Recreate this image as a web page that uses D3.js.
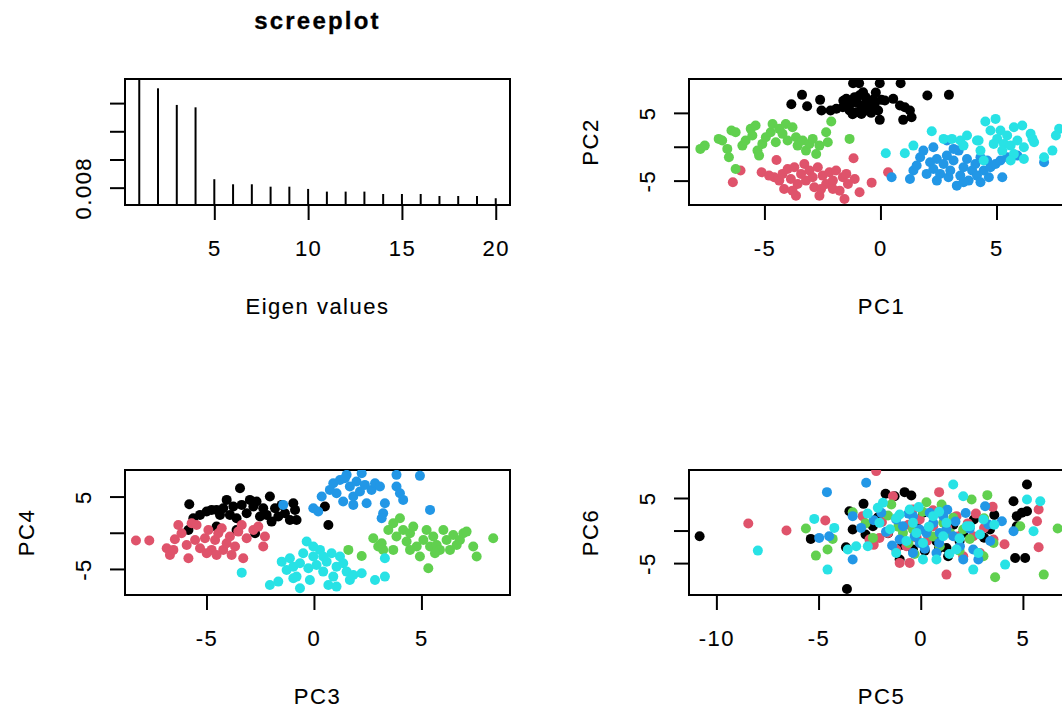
<!DOCTYPE html>
<html>
<head>
<meta charset="utf-8">
<script src="https://cdn.jsdelivr.net/npm/d3@7"></script>
<style>
  body { margin: 0; background: #fff; }
  svg text { font-family: "Liberation Sans", Arial, sans-serif; font-size: 22px; letter-spacing: 1.5px; fill: #000; stroke: #000; stroke-width: 0.12px; }
  svg text.title { font-weight: bold; font-size: 24px; letter-spacing: 2.2px; stroke-width: 0.3px; }
</style>
</head>
<body>
<div id="chart"></div>
<script>
// palette (R 4 default)
const groupColors = ["#000000", "#DF536B", "#61D04F", "#2297E6", "#28E2E5"];

// screeplot
const eigenIndex = d3.range(1, 21);
const eigenValues = [0.0162, 0.01505, 0.01387, 0.0137, 0.0086, 0.00824, 0.00824, 0.00807, 0.00807, 0.00791,
  0.00772, 0.00772, 0.00772, 0.00755, 0.00755, 0.00755, 0.00741, 0.00741, 0.00741, 0.00725];
const screeYlim = [0.00677, 0.01571];
const screeYTicks = [0.008, 0.010, 0.012, 0.014];
const screeXTicks = [5, 10, 15, 20];

// PC1 vs PC2
const pc12Black = [[-3.38,7.66],[-3.84,6.28],[-3.16,5.99],[-2.6,6.92],[-2.54,5.34],[-2.15,5.34],[-1.18,9.38],[-0.92,9.38],
  [-0.03,9.38],[0.87,9.38],[-1.47,7.07],[-1.3,6.31],[-1.11,7.32],[-0.75,8.05],[-0.64,7.32],[-0.32,6.92],[0.04,6.92],
  [-1.62,5.84],[-1.33,5.34],[-1.04,5.1],[-0.82,4.85],[-0.61,5.34],[-0.46,5.84],[-0.25,6.33],[-0.1,5.34],[-0.03,3.97],
  [0.19,6.82],[0.55,7.07],[0.84,6.08],[1.05,5.84],[1.27,5.34],[0.98,3.97],[1.34,4.36],[2.02,7.56],[2.95,7.66],
  [-1.4,6.0],[-1.0,6.5],[-0.8,5.8],[-1.2,4.8],[-0.6,6.6],[-0.9,7.6],[-1.6,6.8],[-0.4,5.0],[-1.9,5.6],[-0.2,8.0]];
const pc12Red = [[-6.36,-5.25],[-6.03,-3.52],[-5.12,-3.77],[-4.48,-1.95],[-4.58,-4.51],[-4.36,-5.0],[-4.22,-4.01],
  [-4.15,-6.23],[-4.0,-3.28],[-3.86,-4.75],[-3.71,-3.03],[-3.64,-7.22],[-3.57,-5.49],[-3.42,-4.01],[-3.28,-2.54],
  [-3.21,-5.0],[-3.06,-3.52],[-2.92,-4.51],[-2.85,-5.99],[-2.7,-3.03],[-2.63,-7.22],[-2.49,-4.26],[-2.34,-5.49],
  [-2.2,-3.77],[-2.05,-5.0],[-1.91,-3.52],[-1.76,-6.48],[-1.62,-4.51],[-1.47,-4.01],[-1.4,-5.49],[-1.55,-7.71],
  [-1.16,-1.7],[-1.11,-4.75],[-0.9,-6.72],[-0.38,-5.3],[0.33,-3.77],[-4.8,-4.26],[-3.79,-6.48],[-2.56,-6.23],[-2.05,-6.23]];
const pc12Green = [[-7.76,-0.32],[-7.57,0.17],[-6.97,1.16],[-6.82,0.91],[-6.6,-0.32],[-6.53,-1.55],[-6.42,2.39],
  [-6.24,-3.28],[-6.24,2.14],[-5.95,0.17],[-5.81,0.91],[-5.59,2.64],[-5.52,1.65],[-5.38,3.13],[-5.3,-0.57],[-5.23,-1.31],
  [-5.09,0.42],[-4.94,1.4],[-4.73,2.14],[-4.65,3.37],[-4.51,0.67],[-4.36,2.64],[-4.22,1.9],[-4.08,3.37],[-4.0,0.91],
  [-3.79,2.88],[-3.64,1.4],[-3.57,0.17],[-3.35,0.91],[-3.21,-0.57],[-3.06,0.42],[-2.92,1.16],[-2.77,-1.06],[-2.63,0.17],
  [-2.34,2.14],[-2.27,0.67],[-2.12,3.72],[-1.33,1.16]];
const pc12Blue = [[0.48,-4.51],[1.27,-4.75],[1.42,-3.52],[1.56,-2.78],[1.71,-1.55],[1.85,-0.57],[1.99,-4.01],[2.14,-2.29],
  [2.28,-3.28],[2.43,-1.8],[2.57,-4.01],[2.72,-2.54],[2.86,-1.31],[2.93,-4.51],[3.01,-3.52],[3.15,-2.04],[3.29,-5.74],
  [3.37,-0.57],[3.44,-4.26],[3.58,-3.03],[3.73,-1.8],[3.8,-5.0],[3.95,-3.52],[4.09,-2.54],[4.16,-4.26],[4.31,-1.55],
  [4.45,-3.52],[4.6,-2.04],[4.74,-3.03],[4.96,-2.54],[5.17,-2.04],[5.25,-4.51],[5.46,-1.55],[5.9,-1.31],[7.05,-2.29],
  [2.86,0.91],[3.15,-0.32],[2.28,-0.07],[3.58,-5.25],[4.31,-5.25],[2.43,-5.0],[4.67,-4.51]];
const pc12Cyan = [[0.23,-0.96],[1.05,-0.96],[1.42,0.17],[2.21,2.29],[2.72,1.16],[3.08,1.16],[3.44,0.91],[3.73,1.65],
  [4.16,0.91],[4.31,-0.57],[4.52,3.72],[4.96,4.11],[4.74,2.39],[5.03,1.16],[5.17,2.39],[5.32,0.42],[5.46,1.65],[5.61,0.17],
  [5.75,2.88],[5.9,0.91],[6.11,3.13],[6.18,-0.07],[6.47,1.9],[6.62,0.67],[5.75,-1.06],[6.18,-1.8],[7.05,-1.55],[7.41,-0.57],
  [7.56,1.65],[7.7,2.64],[4.88,0.42],[4.45,-2.04],[4.23,0.91],[5.25,-0.57],[3.58,0.17],[5.61,-2.04],[6.55,1.16]];

// PC3 vs PC4
const pc34Black = [[-5.8,3.94],[-5.61,2.0],[-5.3,2.47],[-4.99,2.93],[-4.76,3.16],[-4.53,0.85],[-4.37,2.47],[-4.22,3.39],
  [-4.06,4.54],[-3.91,2.47],[-3.75,3.62],[-3.6,2.0],[-3.44,6.15],[-3.36,3.85],[-3.13,2.7],[-2.98,4.54],[-2.82,3.62],
  [-2.67,4.31],[-2.51,2.24],[-2.36,3.39],[-2.2,2.47],[-2.05,5.0],[-1.97,1.54],[-1.81,3.39],[-1.66,2.24],[-1.5,3.85],
  [-1.35,2.7],[-1.12,1.77],[-0.96,4.08],[-0.88,3.16],[-0.81,1.77],[0.51,3.62],[0.67,1.08],[-4.53,3.16],[-5.84,0.39],
  [-3.6,0.39],[-2.74,-0.07]];
const pc34Red = [[-8.28,-1.08],[-7.66,-1.08],[-6.85,-2.14],[-6.7,-3.06],[-6.47,-0.9],[-6.31,1.08],[-6.16,-0.07],
  [-5.92,-1.68],[-5.84,-3.53],[-5.69,1.31],[-5.53,-0.99],[-5.3,-2.14],[-5.07,-0.76],[-4.91,0.39],[-4.76,-2.37],[-4.6,-0.99],
  [-4.45,-0.07],[-4.29,0.62],[-4.22,-2.37],[-4.06,-1.45],[-3.91,-0.53],[-3.83,-3.06],[-3.67,-1.91],[-3.52,0.16],
  [-3.36,1.08],[-3.29,-3.53],[-3.13,-0.76],[-2.82,0.39],[-2.59,0.85],[-2.36,-1.91],[-2.28,-0.53],[-5.46,1.08],
  [-4.53,-3.06],[-6.54,-2.37],[-4.99,-2.83]];
const pc34Green = [[1.6,-2.37],[2.22,-3.2],[2.76,-0.76],[2.99,-1.91],[3.22,-2.37],[3.46,0.39],[3.69,1.31],[3.84,-0.53],
  [4.0,2.0],[4.15,0.39],[4.31,-1.22],[4.47,-0.07],[4.62,0.85],[4.78,-1.91],[4.93,-3.29],[5.09,-0.99],[5.24,0.39],
  [5.32,-4.91],[5.4,-1.91],[5.55,-0.53],[5.71,-1.68],[5.86,-2.37],[6.02,0.39],[6.17,-0.99],[6.33,-2.37],[6.48,-0.3],
  [6.64,-1.68],[6.79,-0.99],[6.95,-0.07],[7.1,0.16],[7.41,-1.91],[7.57,-3.29],[8.34,-0.76],[3.69,-2.37],[4.47,-2.37],
  [5.63,-2.83],[3.15,-1.45]];
const pc34Blue = [[-1.43,3.85],[-0.03,3.39],[0.2,2.93],[0.36,5.0],[0.74,5.92],[0.9,6.84],[1.05,5.46],[1.21,7.3],
  [1.36,4.31],[1.52,8.0],[1.67,6.38],[1.83,5.0],[1.98,7.07],[2.14,5.69],[2.22,8.23],[2.37,6.61],[2.45,4.08],[2.68,5.92],
  [2.84,6.84],[3.07,6.38],[3.22,2.7],[3.3,4.08],[3.15,2.0],[3.84,8.0],[3.84,6.38],[4.0,5.46],[4.15,4.54],[4.93,7.86],
  [5.4,3.16],[1.83,3.85],[1.44,7.53]];
const pc34Cyan = [[-3.36,-5.51],[-2.05,-7.21],[-1.66,-6.75],[-1.5,-3.99],[-1.27,-5.14],[-1.12,-3.53],[-0.96,-4.68],
  [-0.81,-6.06],[-0.65,-7.67],[-0.65,-4.22],[-0.5,-2.83],[-0.34,-1.22],[-0.26,-4.91],[-0.19,-6.52],[-0.03,-3.29],
  [0.12,-4.45],[0.28,-2.37],[0.43,-5.37],[0.59,-3.99],[0.67,-7.21],[0.82,-2.83],[0.9,-6.06],[1.05,-4.68],[1.21,-3.29],
  [1.36,-4.22],[1.52,-5.37],[1.67,-6.52],[1.83,-5.83],[2.22,-5.6],[2.84,-6.52],[3.3,-6.06],[3.3,-3.53],[-0.03,-1.91],
  [0.43,-3.29],[1.05,-7.44],[-0.96,-6.29]];

// PC5 vs PC6
const pc56Black = [[-10.82,-0.87],[-5.38,-1.28],[-3.66,-2.56],[-3.61,-8.97],[-3.49,2.97],[-2.8,4.1],[-1.72,5.64],
  [-1.28,5.28],[-0.79,5.9],[-0.46,5.38],[4.54,4.51],[4.7,2.21],[4.95,2.72],[5.2,2.97],[5.2,7.08],[4.62,-4.21],[5.11,-4.21],
  [3.39,0.15],[1.26,-2.67],[1.34,-3.95],[-1.03,-4.46],[0.44,-0.87],[-0.38,-2.92],[-2.34,0.67],[2.08,-0.36],[4.7,0.67],
  [0.77,-1.64],[0.11,2.72],[-3.33,0.15],[-0.9,-2.2],[0.2,-3.1],[1.6,0.9],[-2.1,2.0],[3.1,-1.1],[-1.6,-0.4],[2.6,1.7],
  [0.9,-2.7],[-0.2,1.4],[1.9,-1.6],[3.6,2.4],[-2.7,-0.6]];
const pc56Red = [[-8.44,1.08],[-6.57,0.0],[-4.67,1.54],[-2.18,9.13],[-1.36,5.28],[0.9,5.9],[3.52,3.64],[5.77,3.23],
  [5.69,1.44],[5.77,-2.56],[1.26,-6.77],[-1.03,-4.97],[-0.54,-4.97],[-2.84,2.21],[-2.02,-1.13],[-1.61,-0.36],[-0.05,1.69],
  [0.61,0.67],[1.75,2.21],[2.57,-0.87],[2.9,-3.44],[3.56,-1.38],[-2.51,-1.38],[2.08,-3.95],[0.93,2.72],[-0.7,-2.41],
  [-0.38,3.23],[-1.9,1.3],[0.3,-1.6],[1.3,0.4],[-0.6,0.9],[2.3,1.1],[-2.3,-2.2],[3.1,0.4],[-0.2,-1.1],[1.8,-0.9],
  [0.6,3.1],[-1.2,-2.9],[2.7,2.6],[4.1,-2.1]];
const pc56Green = [[-5.62,0.31],[-5.13,-3.85],[-4.56,-2.92],[-4.31,-1.28],[-3.33,2.82],[-2.34,-1.13],[-1.44,4.0],
  [0.28,4.36],[1.02,4.0],[1.59,1.95],[2.49,4.77],[3.26,5.44],[3.56,-1.9],[3.64,-7.18],[4.87,0.67],[6.02,-6.77],[6.7,0.31],
  [-0.38,0.15],[0.93,-2.41],[2.08,0.15],[3.07,-3.95],[-0.87,-0.36],[1.43,-0.36],[-1.6,2.3],[0.6,-0.9],[-0.6,-1.9],
  [2.4,-1.3],[1.1,1.2],[-2.7,1.1],[3.1,1.9],[0.1,2.9],[-1.1,0.6],[1.9,-3.1],[-0.3,-3.6]];
const pc56Blue = [[-4.59,5.9],[-2.67,7.33],[-4.97,-1.13],[-4.48,-0.87],[-3.33,2.21],[-3.33,-4.46],[-2.92,0.41],
  [-1.93,2.72],[-1.2,1.69],[-0.87,0.67],[-0.38,-3.44],[-0.05,-1.9],[0.28,-0.36],[0.44,2.72],[0.61,1.18],[0.93,-0.36],
  [1.1,2.21],[1.26,0.15],[1.59,-0.87],[1.92,-2.41],[2.08,-4.46],[2.57,-2.92],[2.82,-4.46],[3.15,3.74],[3.31,0.92],
  [3.97,1.44],[4.54,-0.1],[-0.38,2.21],[-0.05,0.15],[-1.03,-1.38],[0.77,-3.44],[-1.7,-0.2],[-0.6,2.6],[0.2,-2.8],
  [1.7,1.4],[2.4,0.3],[-2.3,1.6],[0.9,-1.9],[-1.4,-2.3],[3.4,-1.6],[2.2,2.7],[-0.3,-0.9],[1.3,3.2]];
const pc56Cyan = [[-7.97,-3.08],[-5.21,1.79],[-4.56,-6.0],[-4.23,0.41],[-3.57,-2.92],[-3.16,-2.41],[-2.59,-2.41],
  [-2.1,3.49],[-1.85,4.26],[-1.03,2.46],[-0.54,3.23],[-0.38,1.18],[-0.21,-0.36],[0.11,-4.46],[0.61,2.21],[0.77,-4.46],
  [1.59,7.08],[1.75,-2.92],[2.08,5.28],[2.25,0.67],[2.57,-6.0],[3.07,1.69],[4.13,-5.23],[5.2,4.77],[5.85,4.51],
  [5.52,-0.1],[-1.2,-3.44],[0.11,-1.9],[1.26,1.18],[2.41,0.67],[1.1,-0.87],[-2.02,1.18],[2.82,-3.44],[-1.5,0.2],
  [0.4,0.6],[-0.7,-1.6],[1.9,-1.2],[-2.6,2.6],[0.9,2.9],[2.9,-0.6],[-0.1,3.6],[1.4,-3.6],[-1.2,1.9],[3.6,0.9]];

const pcTicks = [-10, -5, 0, 5];

const svg = d3.select("#chart").append("svg")
  .attr("width", 1062)
  .attr("height", 711);

let clipCount = 0;

function makePanel(box, xDomain, yDomain, xTicks, yTicks, yLabelTicks, xLab, yLab) {
  const g = svg.append("g").attr("transform", "translate(" + box.left + "," + box.top + ")");
  const x = d3.scaleLinear().domain(xDomain).range([0, box.width]);
  const y = d3.scaleLinear().domain(yDomain).range([box.height, 0]);

  const id = "clip" + (clipCount++);
  g.append("clipPath").attr("id", id)
    .append("rect").attr("width", box.width).attr("height", box.height);

  // x axis
  const xa = g.append("g")
    .attr("transform", "translate(0," + box.height + ")")
    .call(d3.axisBottom(x).tickValues(xTicks.filter(t => t >= xDomain[0] && t <= xDomain[1]))
      .tickSize(15).tickPadding(20).tickFormat(d => String(d)));
  xa.select(".domain").remove();
  xa.selectAll("line").attr("stroke-width", 2);
  xa.attr("font-size", null).attr("font-family", null);

  // y axis, labels rotated like R
  const ya = g.append("g")
    .call(d3.axisLeft(y).tickValues(yTicks.filter(t => t >= yDomain[0] && t <= yDomain[1]))
      .tickSize(15).tickFormat(d => yLabelTicks.includes(d) ? String(d) : ""));
  ya.select(".domain").remove();
  ya.selectAll("line").attr("stroke-width", 2);
  ya.attr("font-size", null).attr("font-family", null);
  ya.selectAll("text")
    .attr("x", null).attr("dy", null)
    .attr("text-anchor", "middle")
    .attr("transform", "translate(-34,0) rotate(-90)");

  g.append("rect")
    .attr("width", box.width).attr("height", box.height)
    .attr("fill", "none").attr("stroke", "#000").attr("stroke-width", 2);

  g.append("text")
    .attr("x", box.width / 2).attr("y", box.height + 109)
    .attr("text-anchor", "middle")
    .text(xLab);

  if (yLab) {
    g.append("text")
      .attr("transform", "translate(-91," + box.height / 2 + ") rotate(-90)")
      .attr("text-anchor", "middle")
      .text(yLab);
  }

  const plot = g.append("g").attr("clip-path", "url(#" + id + ")");
  return { g, plot, x, y };
}

function scatter(panel, groups) {
  groups.forEach((pts, gi) => {
    panel.plot.selectAll(null)
      .data(pts)
      .enter().append("circle")
      .attr("cx", d => panel.x(d[0]))
      .attr("cy", d => panel.y(d[1]))
      .attr("r", 5)
      .attr("fill", groupColors[gi]);
  });
}

// panel 1: screeplot
const p1 = makePanel({ left: 125, top: 79, width: 385, height: 126 },
  [0.24, 20.76], screeYlim, screeXTicks, screeYTicks, [0.008], "Eigen values", null);
p1.plot.selectAll(null)
  .data(eigenValues)
  .enter().append("line")
  .attr("x1", (d, i) => p1.x(eigenIndex[i]))
  .attr("x2", (d, i) => p1.x(eigenIndex[i]))
  .attr("y1", d => p1.y(d))
  .attr("y2", 126)
  .attr("stroke", "#000")
  .attr("stroke-width", 2);
p1.g.append("text")
  .attr("class", "title")
  .attr("x", 385 / 2).attr("y", 29 - 79)
  .attr("text-anchor", "middle")
  .text("screeplot");

// panel 2
const p2 = makePanel({ left: 689, top: 79, width: 385, height: 126 },
  [-8.25, 8.34], [-8.6, 10.0], pcTicks, [-5, 0, 5], [-5, 5], "PC1", "PC2");
scatter(p2, [pc12Black, pc12Red, pc12Green, pc12Blue, pc12Cyan]);

// panel 3
const p3 = makePanel({ left: 125, top: 470, width: 385, height: 125 },
  [-8.79, 9.12], [-8.6, 8.67], pcTicks, [-5, 0, 5], [-5, 5], "PC3", "PC4");
scatter(p3, [pc34Black, pc34Red, pc34Green, pc34Blue, pc34Cyan]);

// panel 4
const p4 = makePanel({ left: 689, top: 470, width: 385, height: 125 },
  [-11.34, 7.5], [-9.9, 9.3], pcTicks, [-5, 0, 5], [-5, 5], "PC5", "PC6");
scatter(p4, [pc56Black, pc56Red, pc56Green, pc56Blue, pc56Cyan]);
</script>
</body>
</html>
